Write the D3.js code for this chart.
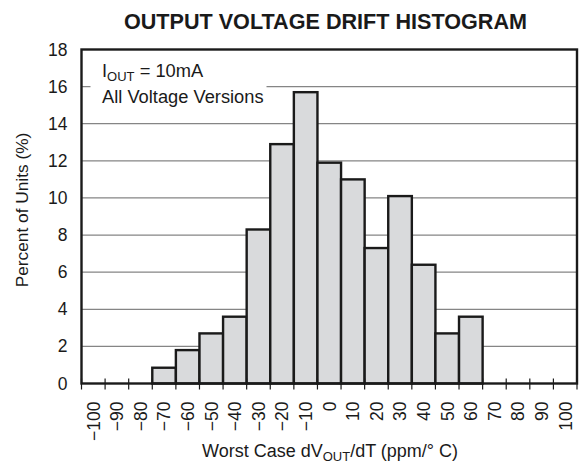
<!DOCTYPE html>
<html>
<head>
<meta charset="utf-8">
<script src="https://cdn.jsdelivr.net/npm/d3@7"></script>
<style>
  body { margin: 0; background: #fff; }
  text { font-family: "Liberation Sans", Arial, sans-serif; fill: #1a1a1a; }
</style>
</head>
<body>
<div id="chart"></div>
<script>
// drift bins (ppm/°C) and percent of units in each
var categories = [-100, -90, -80, -70, -60, -50, -40, -30, -20, -10, 0,
                  10, 20, 30, 40, 50, 60, 70, 80, 90, 100];
var percents = [0, 0, 0, 0.85, 1.8, 2.7, 3.6, 8.3, 12.9, 15.7, 11.9,
                11.0, 7.3, 10.1, 6.4, 2.7, 3.6, 0, 0, 0, 0];
var yTicks = [0, 2, 4, 6, 8, 10, 12, 14, 16, 18];

var margin = {top: 49.5, right: 2, bottom: 82.5, left: 81.5},
    width = 579 - margin.left - margin.right,
    height = 466 - margin.top - margin.bottom;

var x = d3.scaleBand()
    .domain(categories)
    .range([0, width])
    .padding(0);

var y = d3.scaleLinear()
    .domain([0, 18])
    .range([height, 0]);

var svg = d3.select("#chart").append("svg")
    .attr("width", 579)
    .attr("height", 466);

svg.append("text")
    .attr("x", 325.5)
    .attr("y", 28.5)
    .attr("text-anchor", "middle")
    .style("font-size", "21.6px")
    .style("font-weight", "bold")
    .text("OUTPUT VOLTAGE DRIFT HISTOGRAM");

var g = svg.append("g")
    .attr("transform", "translate(" + margin.left + "," + margin.top + ")");

// horizontal grid
g.selectAll(".grid")
    .data(yTicks.filter(function(d) { return d > 0 && d < 18; }))
    .enter().append("line")
    .attr("x1", 0)
    .attr("x2", width)
    .attr("y1", function(d) { return y(d); })
    .attr("y2", function(d) { return y(d); })
    .attr("stroke", "#858585")
    .attr("stroke-width", 1.3);

// white box behind the note, it cuts the grid
g.append("rect")
    .attr("x", 9)
    .attr("y", 8)
    .attr("width", 176)
    .attr("height", 52)
    .attr("fill", "#fff");

var note = g.append("text")
    .attr("x", 20.5)
    .attr("y", 27.5)
    .style("font-size", "18.3px");
note.append("tspan").text("I");
note.append("tspan").attr("dy", 4).style("font-size", "13px").text("OUT");
note.append("tspan").attr("dy", -4).text(" = 10mA");

g.append("text")
    .attr("x", 20.5)
    .attr("y", 53.5)
    .style("font-size", "18.3px")
    .text("All Voltage Versions");

// bars
g.selectAll(".bar")
    .data(categories.map(function(c, i) { return {cat: c, val: percents[i]}; })
      .filter(function(d) { return d.val > 0; }))
    .enter().append("rect")
    .attr("x", function(d) { return x(d.cat); })
    .attr("y", function(d) { return y(d.val); })
    .attr("width", x.bandwidth())
    .attr("height", function(d) { return height - y(d.val); })
    .attr("fill", "#d9dadc")
    .attr("stroke", "#1a1a1a")
    .attr("stroke-width", 2.4);

// frame
g.append("rect")
    .attr("x", 0)
    .attr("y", 0)
    .attr("width", width)
    .attr("height", height)
    .attr("fill", "none")
    .attr("stroke", "#1a1a1a")
    .attr("stroke-width", 2.4);

// ticks at bin edges, crossing the baseline
var edges = categories.map(function(c) { return x(c); }).concat([width]);
g.selectAll(".xtick")
    .data(edges)
    .enter().append("line")
    .attr("x1", function(d) { return d; })
    .attr("x2", function(d) { return d; })
    .attr("y1", height - 5)
    .attr("y2", height + 6)
    .attr("stroke", "#1a1a1a")
    .attr("stroke-width", 1.2);

// x labels, rotated, one per bin
var xAxis = d3.axisBottom(x)
    .tickSize(0)
    .tickPadding(0)
    .tickFormat(function(d) { return d < 0 ? "\u2212" + Math.abs(d) : d; });

var xg = g.append("g")
    .attr("transform", "translate(0," + height + ")")
    .call(xAxis);
xg.select(".domain").remove();
xg.selectAll("text")
    .attr("y", 0)
    .attr("x", 0)
    .attr("dy", "0.36em")
    .attr("transform", "translate(0,18) rotate(-90)")
    .style("text-anchor", "end")
    .style("font-size", "17.5px")
    .style("font-family", "'Liberation Sans', Arial, sans-serif")
    .attr("fill", "#1a1a1a");

// y labels
var yAxis = d3.axisLeft(y)
    .tickValues(yTicks)
    .tickSize(0)
    .tickPadding(14);

var yg = g.append("g").call(yAxis);
yg.select(".domain").remove();
yg.selectAll("text")
    .style("font-size", "17.5px")
    .style("font-family", "'Liberation Sans', Arial, sans-serif")
    .attr("fill", "#1a1a1a");

// axis titles
svg.append("text")
    .attr("transform", "translate(28,210) rotate(-90)")
    .attr("text-anchor", "middle")
    .style("font-size", "17.3px")
    .text("Percent of Units (%)");

var xt = svg.append("text")
    .attr("x", 330)
    .attr("y", 456.5)
    .attr("text-anchor", "middle")
    .style("font-size", "18px");
xt.append("tspan").text("Worst Case dV");
xt.append("tspan").attr("dy", 4).style("font-size", "13px").text("OUT");
xt.append("tspan").attr("dy", -4).text("/dT (ppm/\u00b0 C)");
</script>
</body>
</html>
